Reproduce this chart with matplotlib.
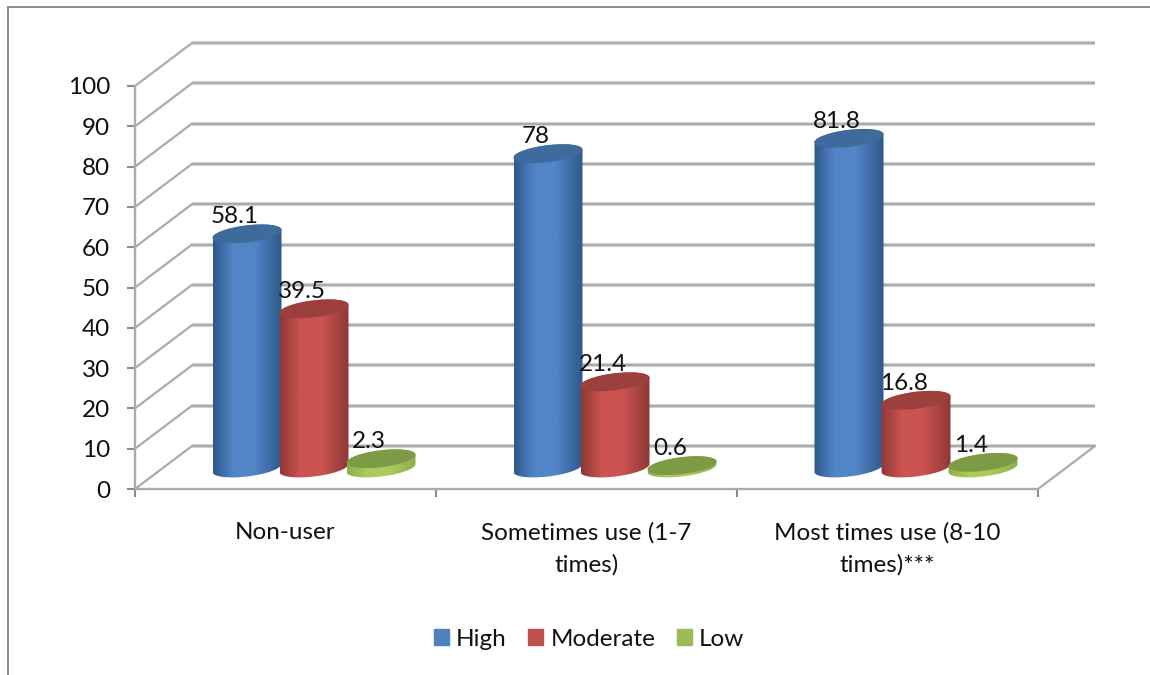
import numpy as np
import matplotlib
matplotlib.use('Agg')
import matplotlib.pyplot as plt
from matplotlib.colors import LinearSegmentedColormap
from matplotlib.lines import Line2D
from matplotlib.patches import Patch, Polygon

# Values
categories = ['Non-user', 'Sometimes use (1-7\ntimes)', 'Most times use (8-10\ntimes)***']
series_names = ['High', 'Moderate', 'Low']
high = [58.1, 78, 81.8]
moderate = [39.5, 21.4, 16.8]
low = [2.3, 0.6, 1.4]
value_labels = [['58.1', '78', '81.8'], ['39.5', '21.4', '16.8'], ['2.3', '0.6', '1.4']]
y_ticks = list(range(0, 101, 10))

# legend colour, side edge, side middle, top face
colors = [
    ('#4f81bd', '#2f5889', '#5285c8', '#3f6a9c'),
    ('#c0504d', '#8e3836', '#cb5451', '#9c403e'),
    ('#9bbb59', '#8fae4c', '#a9cc5c', '#7d9a44'),
]

plt.rcParams['font.family'] = ['Lato', 'DejaVu Sans']
GRID = '#ababab'
AXIS = '#8c8c8c'
TEXT = '#111111'
FONT = 17.5

fig = plt.figure(figsize=(11.5, 6.75), dpi=100)
ax = fig.add_axes([135 / 1150, (675 - 489) / 675, 903 / 1150, 403 / 675])
ax.set_xlim(0, 3)
ax.set_ylim(0, 100)

# pixels to data units
px = 3 / 903
py = 100 / 403
depth_x = 57 * px
depth_y = 43 * py


def cylinder(xc, value, cols):
    a = 34.5 * px
    b = 8.5 * py
    shear = 4 * py
    base = -22 * py + depth_y
    t = np.linspace(0, 2 * np.pi, 120)
    ex = a * np.cos(t)
    ey = b * np.sin(t) + shear * np.cos(t)
    lower = t >= np.pi
    upper = t <= np.pi
    xs = np.r_[xc + ex[upper], xc + ex[lower]]
    ys = np.r_[base + value + ey[upper], base + ey[lower]]
    body = Polygon(np.c_[xs, ys], closed=True, transform=ax.transData, fc='none', ec='none')
    ax.add_patch(body)
    cmap = LinearSegmentedColormap.from_list(
        'side', [(0, cols[1]), (0.3, cols[2]), (0.6, cols[2]), (1, cols[1])])
    grad = np.linspace(0, 1, 256).reshape(1, -1)
    im = ax.imshow(grad, cmap=cmap, aspect='auto', zorder=3 + xc * 0.01,
                   extent=(xc - a, xc + a, base - 2 * b, base + value + 2 * b))
    im.set_clip_path(body)
    ax.fill(xc + ex, base + value + ey, color=cols[3], lw=0, zorder=3.005 + xc * 0.01)


# back wall and side wall grid
for v in y_ticks:
    ax.plot([0, depth_x], [v, v + depth_y], color=GRID, lw=1.6, clip_on=False, zorder=1)
    ax.plot([depth_x, 3 + depth_x], [v + depth_y, v + depth_y], color='#dddddd', lw=3,
            clip_on=False, zorder=1, solid_capstyle='butt')
    ax.plot([depth_x, 3 + depth_x], [v + depth_y, v + depth_y], color=GRID, lw=1.7,
            clip_on=False, zorder=1.1, solid_capstyle='butt')
ax.plot([3, 3 + depth_x], [0, depth_y], color=GRID, lw=1.6, clip_on=False, zorder=1)

# cylinders
all_series = [high, moderate, low]
for s, values in enumerate(all_series):
    for i, v in enumerate(values):
        xc = i + 0.5 + depth_x / 2 + (s - 1) * 67 * px
        cylinder(xc, v, colors[s])
        ax.text(xc - 12 * px, v + (-22 + 43 + 17) * py, value_labels[s][i], ha='center', va='center',
                fontsize=FONT, color=TEXT, zorder=5)
ax.set_xlim(0, 3)
ax.set_ylim(0, 100)

# axes
for side in ['top', 'right']:
    ax.spines[side].set_visible(False)
for side in ['left', 'bottom']:
    ax.spines[side].set_color(GRID)
    ax.spines[side].set_linewidth(1.7)
ax.patch.set_alpha(0)
ax.set_yticks(y_ticks)
ax.set_xticks([0, 1, 2, 3])
ax.set_xticklabels([])
ax.set_xticks([0.5, 1.5, 2.5], minor=True)
ax.set_xticklabels(categories, minor=True, fontsize=FONT, color=TEXT, linespacing=1.6)
ax.tick_params(axis='x', which='major', length=6, width=1.5, color=AXIS)
ax.tick_params(axis='x', which='minor', length=0, pad=24)
ax.tick_params(axis='y', length=6, width=1.5, color=AXIS, labelsize=FONT, labelcolor=TEXT, pad=12)

# outer frame, only top and left show in the picture
fig.add_artist(Line2D([7.5 / 1150, 7.5 / 1150], [0, 1 - 6.5 / 675], color=AXIS, lw=1.4))
fig.add_artist(Line2D([7.5 / 1150, 1], [1 - 6.5 / 675, 1 - 6.5 / 675], color=AXIS, lw=1.4))

handles = [Patch(color=c[0], label=n) for c, n in zip(colors, series_names)]
fig.legend(handles=handles, loc='center', bbox_to_anchor=(589 / 1150, 1 - 639 / 675), ncol=3,
           frameon=False, fontsize=FONT, handlelength=0.62, handleheight=0.62,
           handletextpad=0.3, columnspacing=0.88, labelcolor=TEXT)

fig.savefig('out.png', dpi=100)
